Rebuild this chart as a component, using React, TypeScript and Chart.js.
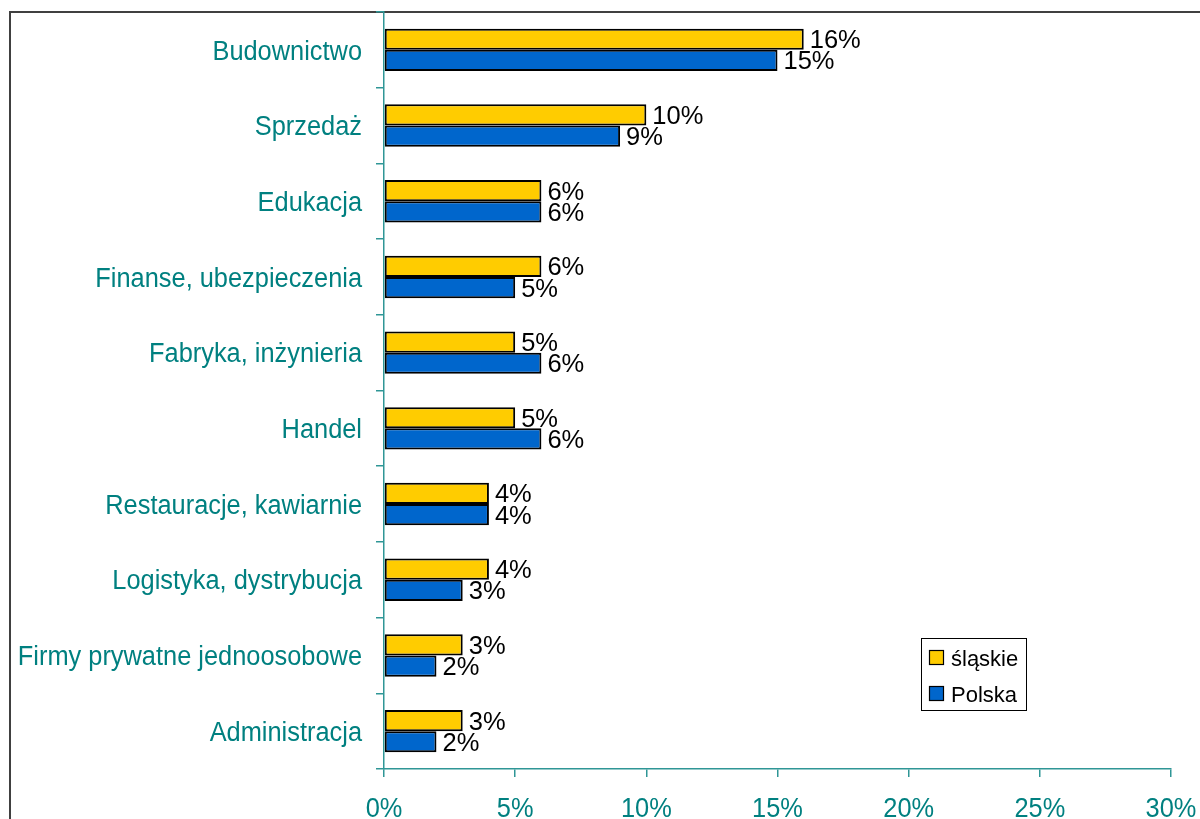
import React, { useEffect, useRef } from "react";
import { Chart, registerables } from "chart.js";

Chart.register(...registerables);

const categories = [
  "Budownictwo",
  "Sprzedaż",
  "Edukacja",
  "Finanse, ubezpieczenia",
  "Fabryka, inżynieria",
  "Handel",
  "Restauracje, kawiarnie",
  "Logistyka, dystrybucja",
  "Firmy prywatne jednoosobowe",
  "Administracja",
];
const slaskieValues = [16, 10, 6, 6, 5, 5, 4, 4, 3, 3];
const polskaValues = [15, 9, 6, 5, 6, 6, 4, 3, 2, 2];
const seriesNames = ["śląskie", "Polska"];
const seriesColors = ["#FFCC00", "#0066CC"];
const xMin = 0;
const xMax = 30;
const xStep = 5;

const FONT = "'Liberation Sans', Arial, sans-serif";
const TEAL = "#008080";
const AXIS = "#2f9696";
const AXIS_FONT_SIZE = 27;
const SQUEEZE = 0.94;

const frameAndLabels = {
  id: "frameAndLabels",
  beforeDraw(chart: any) {
    const ctx = chart.ctx;
    ctx.save();
    ctx.fillStyle = "#ffffff";
    ctx.fillRect(0, 0, chart.width, chart.height);
    ctx.strokeStyle = "#404040";
    ctx.lineWidth = 2;
    ctx.strokeRect(10, 12, chart.width + 20, chart.height + 20);
    ctx.restore();
  },
  afterDatasetsDraw(chart: any) {
    const ctx = chart.ctx;
    ctx.save();
    ctx.font = `25.5px ${FONT}`;
    ctx.fillStyle = "#000000";
    ctx.textAlign = "left";
    ctx.textBaseline = "alphabetic";
    chart.data.datasets.forEach((ds: any, i: number) => {
      const meta = chart.getDatasetMeta(i);
      meta.data.forEach((el: any, j: number) => {
        ctx.fillText(ds.data[j] + "%", el.x + 6, el.y + 9);
      });
    });
    ctx.restore();
  },
  afterDraw(chart: any) {
    const ctx = chart.ctx;
    // axis labels (slightly condensed, as in the reference)
    ctx.save();
    ctx.font = `${AXIS_FONT_SIZE}px ${FONT}`;
    ctx.fillStyle = TEAL;
    ctx.textBaseline = "alphabetic";
    const ys = chart.scales.y;
    const yRight = ys.right - 8 - 14;
    ys.ticks.forEach((t: any, i: number) => {
      const y = ys.getPixelForTick(i);
      ctx.save();
      ctx.translate(yRight, y + 9.7);
      ctx.scale(SQUEEZE, 1);
      ctx.textAlign = "right";
      ctx.fillText(String(chart.data.labels[t.value] ?? t.label), 0, 0);
      ctx.restore();
    });
    const xs = chart.scales.x;
    xs.ticks.forEach((t: any, i: number) => {
      const x = xs.getPixelForTick(i);
      ctx.save();
      ctx.translate(x, xs.top + 47.5);
      ctx.scale(SQUEEZE, 1);
      ctx.textAlign = "center";
      ctx.fillText(t.value + "%", 0, 0);
      ctx.restore();
    });
    ctx.restore();

    // legend
    ctx.save();
    ctx.fillStyle = "#ffffff";
    ctx.fillRect(921.5, 638.5, 105, 72);
    ctx.strokeStyle = "#000000";
    ctx.lineWidth = 1;
    ctx.strokeRect(921.5, 638.5, 105, 72);
    ctx.font = `22px ${FONT}`;
    ctx.textAlign = "left";
    ctx.textBaseline = "alphabetic";
    const rows = [658, 694];
    seriesNames.forEach((name, i) => {
      const cy = rows[i];
      ctx.fillStyle = seriesColors[i];
      ctx.fillRect(929.5, cy - 7.5, 14, 14);
      ctx.strokeStyle = "#000000";
      ctx.lineWidth = 1.2;
      ctx.strokeRect(929.5, cy - 7.5, 14, 14);
      ctx.fillStyle = "#000000";
      ctx.fillText(name, 951, cy + 8);
    });
    ctx.restore();
  },
};

export default function App() {
  const ref = useRef<HTMLCanvasElement | null>(null);
  useEffect(() => {
    if (!ref.current) return;
    const barStyle = {
      borderColor: "#000000",
      borderWidth: 2,
      borderSkipped: false,
      categoryPercentage: 0.56,
      barPercentage: 1,
    };
    const chart = new Chart(ref.current, {
      type: "bar",
      data: {
        labels: categories,
        datasets: [
          { label: seriesNames[0], data: slaskieValues, backgroundColor: seriesColors[0], ...barStyle },
          { label: seriesNames[1], data: polskaValues, backgroundColor: seriesColors[1], ...barStyle },
        ],
      },
      options: {
        indexAxis: "y",
        responsive: false,
        animation: false,
        devicePixelRatio: 1,
        layout: { padding: { top: 12, right: 29, left: 0, bottom: 0 } },
        plugins: {
          legend: { display: false },
          tooltip: { enabled: false },
          title: { display: false },
        },
        scales: {
          x: {
            min: xMin,
            max: xMax,
            ticks: {
              stepSize: xStep,
              callback: (v: any) => v + "%",
              color: "rgba(0,0,0,0)",
              font: { family: FONT, size: 25.5 },
              padding: 16,
              maxRotation: 0,
            },
            grid: {
              drawOnChartArea: false,
              drawTicks: true,
              tickLength: 8,
              color: AXIS,
              lineWidth: 1.5,
            },
            border: { color: AXIS, width: 1.5 },
            afterFit: (s: any) => {
              s.height = 50;
              s.paddingLeft = 0;
              s.paddingRight = 0;
            },
          },
          y: {
            ticks: {
              color: "rgba(0,0,0,0)",
              font: { family: FONT, size: 25.5 },
              padding: 14,
            },
            grid: {
              offset: true,
              drawOnChartArea: false,
              drawTicks: true,
              tickLength: 8,
              color: AXIS,
              lineWidth: 1.5,
            },
            border: { color: AXIS, width: 1.5 },
            afterFit: (s: any) => {
              s.width = 384;
              s.paddingTop = 0;
              s.paddingBottom = 0;
            },
          },
        },
      },
      plugins: [frameAndLabels],
    } as any);
    return () => chart.destroy();
  }, []);
  return (
    <canvas
      ref={ref}
      width={1200}
      height={819}
      style={{ position: "absolute", left: 0, top: 0, display: "block", width: 1200, height: 819 }}
    />
  );
}
